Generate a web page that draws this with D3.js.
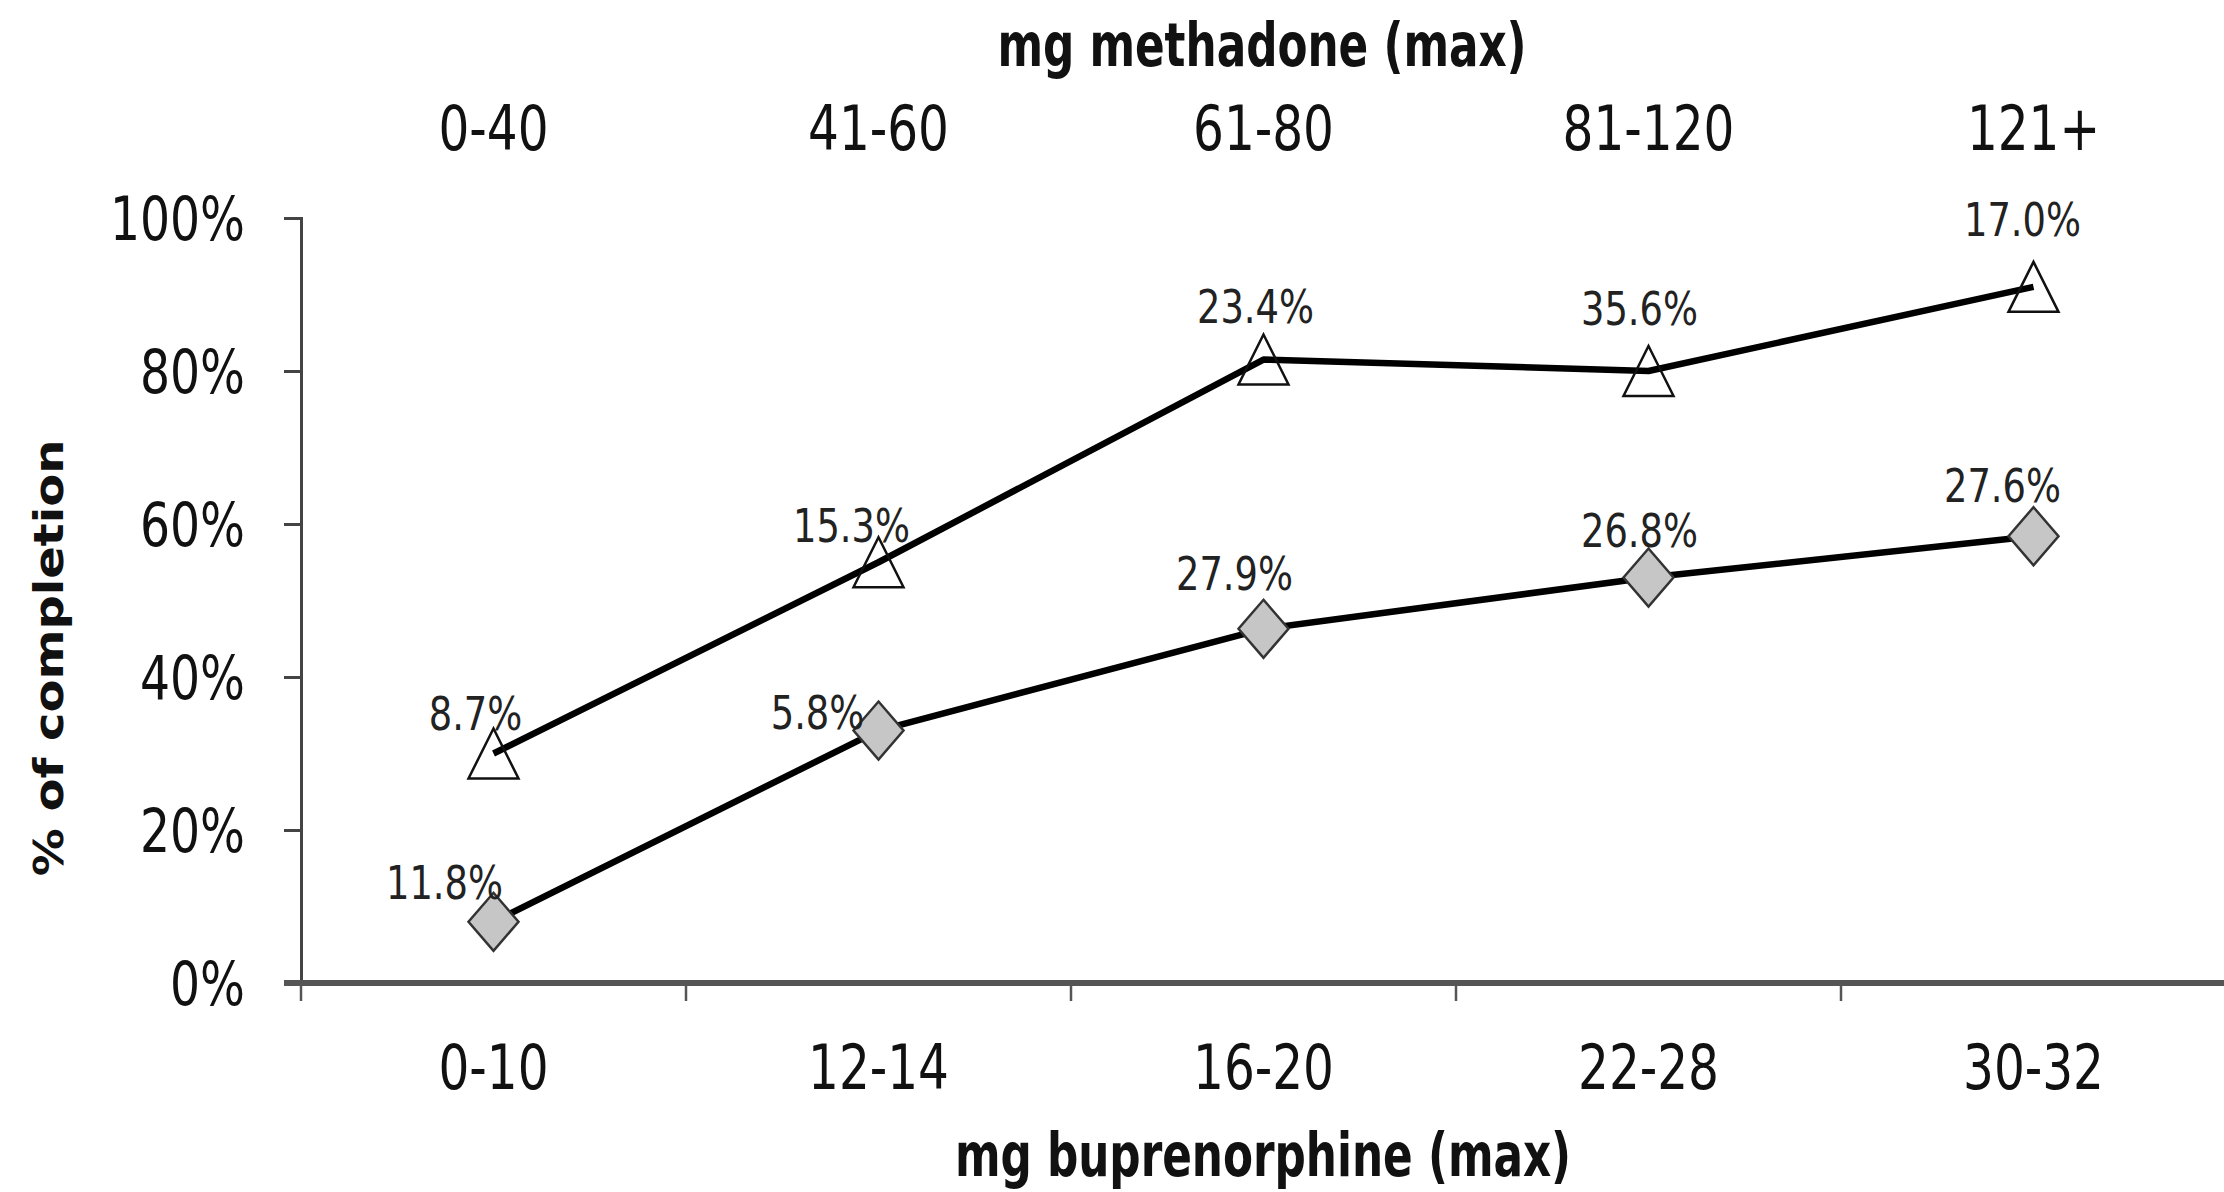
<!DOCTYPE html>
<html>
<head>
<meta charset="utf-8">
<script src="https://cdn.jsdelivr.net/npm/d3@7"></script>
<style>
  html, body { margin: 0; padding: 0; background: #fff; }
  svg { display: block; }
  .narrow { font-family: "DejaVu Sans Condensed", "DejaVu Sans", sans-serif; }
</style>
</head>
<body>
<svg id="chart" width="2224" height="1192"></svg>
<script>
// ---- data ----
const buprenorphineCats = ["0-10", "12-14", "16-20", "22-28", "30-32"];
const methadoneCats = ["0-40", "41-60", "61-80", "81-120", "121+"];
const methadoneValues = [30, 55, 81.5, 80, 91];          // triangles (% completion)
const methadoneLabels = ["8.7%", "15.3%", "23.4%", "35.6%", "17.0%"];
const buprenorphineValues = [8, 33, 46.3, 53, 58.4];     // diamonds (% completion)
const buprenorphineLabels = ["11.8%", "5.8%", "27.9%", "26.8%", "27.6%"];
const yTicks = [0, 20, 40, 60, 80, 100];

// ---- layout (label nudges relative to point) ----
const triNudge = [[-18, -40], [-27, -37], [-8, -53], [-9, -63], [-11, -67]];
const diaNudge = [[-49, -39], [-61, -18], [-29, -55], [-9, -47], [-31, -51]];

const svg = d3.select("#chart");
const x0 = 301, x1 = 2226, yBottom = 983, yTop = 218;

// horizontally condense text around its anchor x
function condense(sel, s) {
  sel.each(function () {
    const t = d3.select(this);
    const ax = +(t.attr("x") || 0);
    t.attr("transform", `translate(${ax * (1 - s)},0) scale(${s},1)`);
  });
}

const x = d3.scaleBand().domain(buprenorphineCats).range([x0, x1]).padding(0);
const xTop = d3.scaleBand().domain(methadoneCats).range([x0, x1]).padding(0);
const y = d3.scaleLinear().domain([0, 100]).range([yBottom, yTop]);
const cx = i => x(buprenorphineCats[i]) + x.bandwidth() / 2;

// Y axis
const yAxis = svg.append("g")
  .attr("transform", `translate(${x0},0)`)
  .call(d3.axisLeft(y).tickValues(yTicks).tickFormat(d => d + "%").tickSize(17).tickPadding(39));
yAxis.select(".domain").attr("stroke", "#444").attr("stroke-width", 3);
yAxis.selectAll(".tick line").attr("stroke", "#444").attr("stroke-width", 3);
yAxis.selectAll(".tick text").attr("class", "narrow").attr("font-size", 60).attr("fill", "#111").attr("dy", "0.36em")
  .call(condense, 0.875);

// X axis bottom (labels at centers)
const xAxis = svg.append("g")
  .attr("transform", `translate(0,${yBottom})`)
  .call(d3.axisBottom(x).tickSize(0).tickPadding(62));
xAxis.select(".domain").remove();
xAxis.selectAll(".tick text").attr("class", "narrow").attr("font-size", 62).attr("fill", "#111")
  .call(condense, 0.87);

// boundary ticks
const bounds = buprenorphineCats.map(c => x(c)).concat([x1]);
svg.append("g").selectAll("line").data(bounds).join("line")
  .attr("x1", d => d).attr("x2", d => d)
  .attr("y1", yBottom).attr("y2", yBottom + 18)
  .attr("stroke", "#555").attr("stroke-width", 2.5);
// x axis line
svg.append("line")
  .attr("x1", x0 - 17).attr("x2", 2224)
  .attr("y1", yBottom).attr("y2", yBottom)
  .attr("stroke", "#555").attr("stroke-width", 6);

// Top axis labels
const topAxis = svg.append("g")
  .attr("transform", `translate(0,150)`)
  .call(d3.axisTop(xTop).tickSize(0).tickPadding(0));
topAxis.select(".domain").remove();
topAxis.selectAll(".tick text").attr("class", "narrow").attr("font-size", 62).attr("fill", "#111")
  .call(condense, 0.87);

// Axis titles
svg.append("text").attr("class", "narrow")
  .attr("x", 1262).attr("y", 66).attr("text-anchor", "middle")
  .attr("font-size", 60).attr("font-weight", "bold").attr("fill", "#111")
  .text("mg methadone (max)")
  .call(condense, 0.81);
svg.append("text").attr("class", "narrow")
  .attr("x", 1263).attr("y", 1176).attr("text-anchor", "middle")
  .attr("font-size", 60).attr("font-weight", "bold").attr("fill", "#111")
  .text("mg buprenorphine (max)")
  .call(condense, 0.81);
svg.append("text")
  .attr("transform", "translate(63,658) scale(0.85,1) rotate(-90)")
  .attr("text-anchor", "middle")
  .attr("font-family", "'DejaVu Sans', Verdana, sans-serif")
  .attr("font-size", 48).attr("font-weight", "bold").attr("fill", "#111")
  .text("% of completion");

// Lines
const line = d3.line().x((d, i) => cx(i)).y(d => y(d));
svg.append("path").datum(methadoneValues).attr("d", line)
  .attr("fill", "none").attr("stroke", "#000").attr("stroke-width", 6.5).attr("stroke-linejoin", "round");
svg.append("path").datum(buprenorphineValues).attr("d", line)
  .attr("fill", "none").attr("stroke", "#000").attr("stroke-width", 6.5).attr("stroke-linejoin", "round");

// Triangle markers (hollow)
svg.append("g").selectAll("path").data(methadoneValues).join("path")
  .attr("d", (d, i) => {
    const px = cx(i), py = y(d), w = 25, h = 25;
    return `M${px},${py - h}L${px + w},${py + h}L${px - w},${py + h}Z`;
  })
  .attr("fill", "none").attr("stroke", "#111").attr("stroke-width", 2.5);

// Diamond markers
svg.append("g").selectAll("path").data(buprenorphineValues).join("path")
  .attr("d", (d, i) => {
    const px = cx(i), py = y(d), w = 25, h = 29;
    return `M${px},${py - h}L${px + w},${py}L${px},${py + h}L${px - w},${py}Z`;
  })
  .attr("fill", "#c6c6c6").attr("stroke", "#333").attr("stroke-width", 2.5);

// Data labels
svg.append("g").selectAll("text").data(methadoneValues).join("text")
  .attr("class", "narrow")
  .attr("x", (d, i) => cx(i) + triNudge[i][0])
  .attr("y", (d, i) => y(d) + triNudge[i][1])
  .attr("dy", "0.36em").attr("text-anchor", "middle")
  .attr("font-size", 46).attr("fill", "#222")
  .text((d, i) => methadoneLabels[i])
  .call(condense, 0.89);
svg.append("g").selectAll("text").data(buprenorphineValues).join("text")
  .attr("class", "narrow")
  .attr("x", (d, i) => cx(i) + diaNudge[i][0])
  .attr("y", (d, i) => y(d) + diaNudge[i][1])
  .attr("dy", "0.36em").attr("text-anchor", "middle")
  .attr("font-size", 46).attr("fill", "#222")
  .text((d, i) => buprenorphineLabels[i])
  .call(condense, 0.89);
</script>
</body>
</html>
